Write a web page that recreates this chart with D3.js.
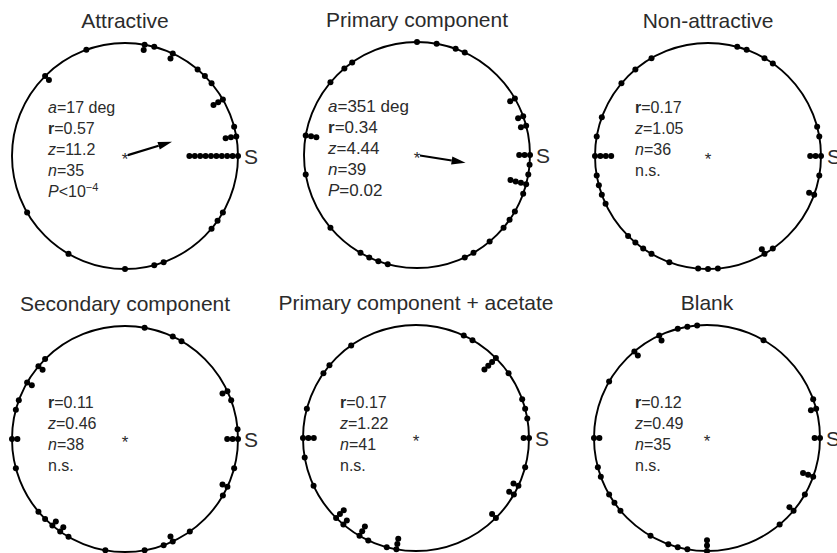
<!DOCTYPE html>
<html>
<head>
<meta charset="utf-8">
<script src="https://cdn.jsdelivr.net/npm/d3@7"></script>
<style>
  body { margin: 0; background: #fff; }
  text { font-family: "Liberation Sans", Arial, sans-serif; fill: #2b2b2b; }
</style>
</head>
<body>
<div id="chart"></div>
<script>
// panel titles
var titles = ["Attractive", "Primary component", "Non-attractive",
              "Secondary component", "Primary component + acetate", "Blank"];

// headings in degrees (0 = source S, counter-clockwise); repeats are stacked inward
var attractive = [0,0,0,0,0,0,0,0,0,0, 10,10,10, 15, 30,30,30, 40, 45, 50, 65,65, 75, 80,80,
                  110, 135,135, 210, 240, 270, 285, 290, 320, 325, 330];
var primary = [0,0,0, 15,15, 20,20, 30,30, 65, 70, 80, 90, 125, 130, 140, 170,170,170, 190, 220,
               240, 245, 250, 255, 295, 300, 310, 320, 325, 330, 340, 345,345,345,345, 350, 355];
var nonAttractive = [0,0,0, 10, 15, 55, 60, 70, 75, 120, 130, 140, 160, 170, 180,180,180,180,
                     190, 195, 200, 205, 225, 230, 235, 240, 250, 265, 270, 275, 300,300, 305,
                     340,340, 350];
var secondary = [0,0,0, 5, 20, 25,25, 60, 65, 80, 135, 140,140, 150,150, 160, 165, 180,180, 195,
                 220, 225, 230,230, 235,235, 240, 260, 280, 290, 295,295, 305, 330, 335,335, 345];
var primaryAcetate = [0,0, 10, 15, 20, 35, 45,45,45,45, 60, 65, 125, 140, 145, 165, 180,180,180,
                      190, 205, 225,225,225, 230,230, 240,240,240, 245, 255, 260,260,260,
                      315,315, 330,330, 335,335, 345];
var blank = [0,0, 15,15, 20, 60, 95, 100, 105, 115,115, 130,130, 150, 180,180, 195, 200, 210, 215,
             220, 240, 250, 255, 260, 270,270,270, 310, 320,320, 330, 340,340,340];

var angleSets = [attractive, primary, nonAttractive, secondary, primaryAcetate, blank];

// statistics
var meanAngle = [17, 351, null, null, null, null];
var rValues = ["0.57", "0.34", "0.17", "0.11", "0.17", "0.12"];
var zValues = ["11.2", "4.44", "1.05", "0.46", "1.22", "0.49"];
var nValues = [35, 39, 36, 38, 41, 35];
var pValues = ["<10", "=0.02", null, null, null, null];
var pExponent = ["\u22124", null, null, null, null, null];

// layout
var width = 837, height = 553, R = 113;
var panelX = [125, 417, 708, 125, 416, 707];
var panelY = [156, 155, 156, 439, 438, 438];
var textDX = [-77, -89, -73, -77, -76, -72];
var textTop = [-43, -43, -43, -31, -30, -30];
var statSize = [16, 17, 16, 16, 16, 16];
var lineGap = 21;

var svg = d3.select("#chart").append("svg")
  .attr("width", width).attr("height", height);

var angle = d3.scaleLinear().domain([0, 360]).range([0, 2 * Math.PI]);
var stack = d3.scaleLinear().domain([0, 1]).range([R, R - 5.4]);
var radial = d3.scaleLinear().domain([0, 1]).range([0, R]);
var arrowLen = 0.435;

function polar(a, r) {
  return [r * Math.cos(angle(a)), -r * Math.sin(angle(a))];
}

angleSets.forEach(function(set, i) {
  var g = svg.append("g")
    .attr("transform", "translate(" + panelX[i] + "," + panelY[i] + ")");

  g.append("text")
    .attr("x", 0).attr("y", -R - 15)
    .attr("text-anchor", "middle")
    .style("font-size", "21px")
    .text(titles[i]);

  g.append("circle")
    .attr("r", R)
    .attr("fill", "none")
    .attr("stroke", "#000")
    .attr("stroke-width", 1.9);

  // stack repeated headings inward
  var seen = {};
  var dots = set.map(function(a) {
    var k = seen[a] || 0;
    seen[a] = k + 1;
    return polar(a, stack(k));
  });

  g.selectAll("circle.dot").data(dots).enter().append("circle")
    .attr("class", "dot")
    .attr("cx", function(d) { return d[0]; })
    .attr("cy", function(d) { return d[1]; })
    .attr("r", 3)
    .attr("fill", "#000");

  g.append("text")
    .attr("x", R + 6).attr("y", 8)
    .style("font-size", "21px")
    .text("S");

  g.append("text")
    .attr("x", 0).attr("y", 9)
    .attr("text-anchor", "middle")
    .style("font-size", "17px")
    .text("*");

  if (meanAngle[i] != null) {
    var a = meanAngle[i];
    var tip = polar(a, radial(arrowLen));
    var start = polar(a, 3);
    var base = polar(a, radial(arrowLen) - 14);
    var side = [Math.sin(angle(a)) * 4, Math.cos(angle(a)) * 4];
    g.append("line")
      .attr("x1", start[0]).attr("y1", start[1])
      .attr("x2", base[0]).attr("y2", base[1])
      .attr("stroke", "#000").attr("stroke-width", 2.2);
    g.append("path")
      .attr("d", "M" + tip + "L" + [base[0] + side[0], base[1] + side[1]] +
                 "L" + [base[0] - side[0], base[1] - side[1]] + "Z")
      .attr("fill", "#000");
  }

  // statistics block
  var lines = [];
  if (meanAngle[i] != null) lines.push([["a", "i"], ["=" + meanAngle[i] + " deg", ""]]);
  lines.push([["r", "b"], ["=" + rValues[i], ""]]);
  lines.push([["z", "i"], ["=" + zValues[i], ""]]);
  lines.push([["n", "i"], ["=" + nValues[i], ""]]);
  if (pValues[i] != null) {
    var p = [["P", "i"], [pValues[i], ""]];
    if (pExponent[i]) p.push([pExponent[i], "sup"]);
    lines.push(p);
  } else {
    lines.push([["n.s.", ""]]);
  }

  lines.forEach(function(segs, j) {
    var t = g.append("text")
      .attr("x", textDX[i])
      .attr("y", textTop[i] + j * lineGap)
      .style("font-size", statSize[i] + "px");
    segs.forEach(function(s) {
      var ts = t.append("tspan").text(s[0]);
      if (s[1] == "i") ts.style("font-style", "italic");
      if (s[1] == "b") ts.style("font-weight", "bold");
      if (s[1] == "sup") ts.attr("dy", -6).style("font-size", "11px");
    });
  });
});
</script>
</body>
</html>
